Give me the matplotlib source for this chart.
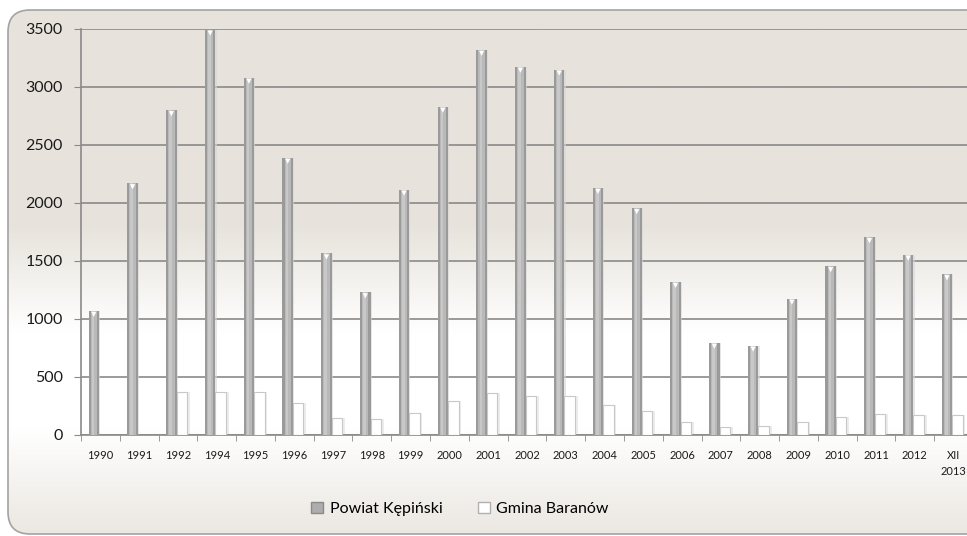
import numpy as np
import matplotlib
matplotlib.use('Agg')
import matplotlib.pyplot as plt
from matplotlib.patches import FancyBboxPatch
from matplotlib.patches import Patch

plt.rcParams['font.family'] = ['Lato', 'DejaVu Sans']

# data
years = ['1990', '1991', '1992', '1994', '1995', '1996', '1997', '1998', '1999', '2000',
         '2001', '2002', '2003', '2004', '2005', '2006', '2007', '2008', '2009', '2010',
         '2011', '2012', 'XII\n2013']
powiat = [1070, 2170, 2800, 3495, 3080, 2390, 1565, 1230, 2115, 2830,
          3320, 3175, 3150, 2130, 1955, 1320, 795, 770, 1175, 1455,
          1705, 1555, 1385]
gmina = [0, 0, 368, 368, 368, 277, 149, 134, 188, 297,
         360, 334, 334, 257, 203, 114, 66, 77, 114, 155,
         183, 169, 169]

W, H = 967, 536
fig = plt.figure(figsize=(W / 100, H / 100), dpi=100)
fig.patch.set_facecolor('white')

# background panel with rounded corners and vertical gradient
bg = fig.add_axes([0, 0, 1, 1], zorder=-5)
bg.set_xlim(0, W)
bg.set_ylim(H, 0)
bg.axis('off')
stops = np.array([0.0, 0.42, 0.62, 0.80, 1.0])
cols = np.array([[231, 227, 220], [231, 227, 220], [255, 255, 255],
                 [255, 255, 255], [235, 231, 225]]) / 255.0
t = np.linspace(0, 1, 300)
grad = np.stack([np.interp(t, stops, cols[:, k]) for k in range(3)], axis=1)
img = bg.imshow(grad[:, None, :], extent=[0, W, H, 0], aspect='auto', zorder=0)
panel = FancyBboxPatch((8, 10), 1010, 524, boxstyle='round,pad=0,rounding_size=22',
                       transform=bg.transData, facecolor='none',
                       edgecolor='#a3a3a3', linewidth=1.2, zorder=2)
bg.add_patch(panel)
img.set_clip_path(panel)

ax = fig.add_axes([81 / W, (H - 435) / H, 892 / W, 406 / H])
ax.patch.set_alpha(0)

x = np.arange(len(years))
bw = 0.27
xp = x - 0.17
xg = x + 0.10

# Powiat bars: darker body with lighter core for a rounded look
ax.bar(xp + 0.03, powiat, bw, color='#d6d6d6', alpha=0.6, zorder=2)
ax.bar(xp, powiat, bw, color='#9a9a9a', zorder=3)
ax.bar(xp, powiat, bw * 0.6, color='#b9b9b9', zorder=3)
ax.bar(xp - 0.02, powiat, bw * 0.25, color='#c8c8c8', zorder=3)
ax.scatter(xp, np.array(powiat) - 30, marker='v', s=14, color='white',
           edgecolors='none', zorder=4)

# Gmina bars: white with soft shadow (no bar where there is no value)
g = np.array(gmina, dtype=float)
g[g == 0] = np.nan
ax.bar(xg + 0.07, g, bw, color='#e4e4e4', alpha=0.7, zorder=2)
ax.bar(xg, g, bw, color='white', edgecolor='#c8c8c8', linewidth=0.8, zorder=3)

ax.set_xlim(-0.5, len(years) - 0.5)
ax.set_ylim(0, 3500)
ax.set_yticks(np.arange(0, 3501, 500))
ax.yaxis.grid(True, color='#8a8a8a', linewidth=1.2, zorder=0)
ax.set_axisbelow(True)

ax.set_xticks(x)
ax.set_xticklabels(years, fontsize=8, color='#1a1a1a', linespacing=1.5)
ax.set_xticks(np.arange(-0.5, len(years), 1), minor=True)
ax.tick_params(axis='x', which='major', length=0, pad=11)
ax.tick_params(axis='x', which='minor', length=4, color='#8a8a8a', direction='out')
ax.tick_params(axis='y', length=5, color='#8a8a8a', pad=8, labelsize=11.5,
               labelcolor='#1a1a1a')

for s in ['top', 'right']:
    ax.spines[s].set_visible(False)
ax.spines['left'].set_color('#8a8a8a')
ax.spines['bottom'].set_color('#8a8a8a')
ax.spines['left'].set_linewidth(1.2)
ax.spines['bottom'].set_linewidth(1.2)

handles = [Patch(facecolor='#adadad', edgecolor='#8a8a8a'),
           Patch(facecolor='white', edgecolor='#b0b0b0')]
fig.legend(handles, ['Powiat Kępiński', 'Gmina Baranów'], loc='center',
           bbox_to_anchor=(460 / W, 1 - 509 / H), ncol=2, frameon=False,
           fontsize=11.5, handlelength=0.75, handleheight=0.75, handletextpad=0.4,
           columnspacing=2.2)

fig.savefig('out.png', dpi=100)
